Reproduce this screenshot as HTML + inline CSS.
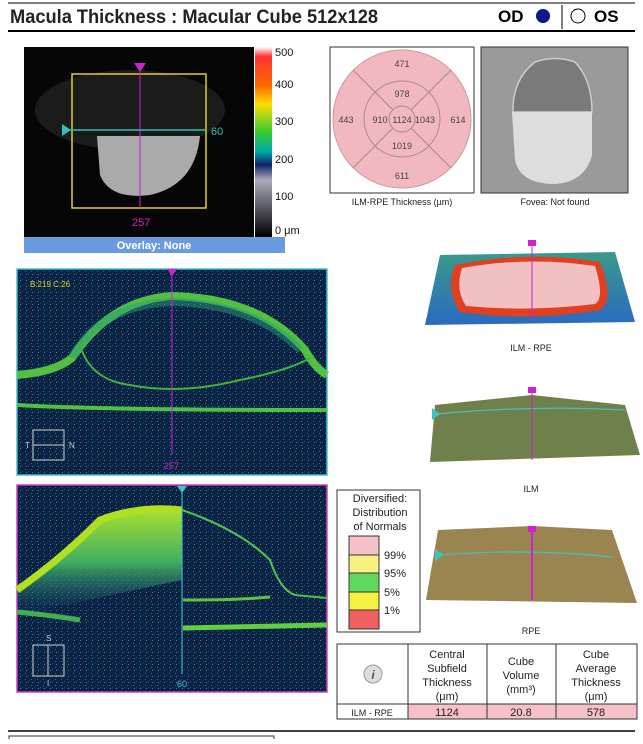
<!DOCTYPE html>
<html><head><meta charset="utf-8"><style>
body{margin:0;background:#fff;width:643px;height:739px;overflow:hidden;font-family:"Liberation Sans",sans-serif}
</style></head><body>
<svg width="643" height="739" xmlns="http://www.w3.org/2000/svg" font-family="Liberation Sans, sans-serif">
<defs>
<linearGradient id="cb" x1="0" y1="0" x2="0" y2="1">
<stop offset="0" stop-color="#fff"/><stop offset="0.05" stop-color="#f33"/><stop offset="0.2" stop-color="#f60"/><stop offset="0.3" stop-color="#fd0"/><stop offset="0.45" stop-color="#3c3"/><stop offset="0.55" stop-color="#0aa"/><stop offset="0.62" stop-color="#126"/><stop offset="0.7" stop-color="#aab"/><stop offset="1" stop-color="#000"/></linearGradient>
<pattern id="noise" width="6" height="6" patternUnits="userSpaceOnUse"><rect width="6" height="6" fill="#0b2342"/><rect x="1" y="1" width="1" height="1" fill="#2a6a9a"/><rect x="4" y="3" width="1" height="1" fill="#1c5080"/><rect x="2" y="4" width="1" height="1" fill="#3a8ab0"/></pattern>
<linearGradient id="map" x1="0" y1="0" x2="0" y2="1"><stop offset="0" stop-color="#3a9a8a"/><stop offset="1" stop-color="#2a6ac0"/></linearGradient>
<linearGradient id="dome" x1="0" y1="0" x2="0" y2="1"><stop offset="0" stop-color="#a8e030"/><stop offset="0.5" stop-color="#40b060"/><stop offset="1" stop-color="#1a5080" stop-opacity="0"/></linearGradient>
</defs>
<line x1="8" y1="3" x2="635" y2="3" stroke="#000" stroke-width="1"/>
<text x="10" y="23" font-size="19" font-weight="bold" fill="#222" textLength="368" lengthAdjust="spacingAndGlyphs">Macula Thickness : Macular Cube 512x128</text>
<text x="498" y="22" font-size="17" font-weight="bold">OD</text>
<circle cx="543" cy="16" r="7" fill="#0a1a8a"/>
<line x1="562" y1="5" x2="562" y2="29" stroke="#000"/>
<circle cx="578" cy="16" r="7" fill="#fff" stroke="#000"/>
<text x="594" y="22" font-size="17" font-weight="bold">OS</text>
<line x1="8" y1="31" x2="635" y2="31" stroke="#000" stroke-width="2"/>
<!-- fundus -->
<rect x="24" y="47" width="230" height="190" fill="#060606"/>
<ellipse cx="130" cy="110" rx="95" ry="40" fill="#2a2a2a" opacity="0.6"/>
<path d="M97 136 L200 136 Q195 185 150 195 Q110 200 100 175 Z" fill="#aaa"/>
<rect x="72" y="74" width="134" height="134" fill="none" stroke="#e0d020" stroke-width="1.5"/>
<line x1="140" y1="67" x2="140" y2="208" stroke="#d020d0"/>
<polygon points="134,63 146,63 140,72" fill="#d020d0"/>
<line x1="66" y1="130" x2="205" y2="130" stroke="#30c0c0" stroke-width="1.5"/>
<polygon points="62,124 62,136 71,130" fill="#30c0c0"/>
<text x="211" y="135" font-size="11" fill="#30c0c0">60</text>
<text x="132" y="226" font-size="11" fill="#d020d0">257</text>
<rect x="255" y="47" width="17" height="190" fill="url(#cb)"/>
<g font-size="11" fill="#111"><text x="275" y="56">500</text><text x="275" y="88">400</text><text x="275" y="125">300</text><text x="275" y="163">200</text><text x="275" y="200">100</text><text x="275" y="234">0 μm</text></g>
<rect x="24" y="237" width="261" height="16" fill="#6a9ae0"/>
<text x="154" y="249" font-size="11" font-weight="bold" fill="#fff" text-anchor="middle">Overlay: None</text>
<!-- ETDRS -->
<rect x="330" y="47" width="144" height="146" fill="#fff" stroke="#333"/>
<circle cx="402" cy="119" r="69" fill="#f2b8c0" stroke="#c99"/>
<circle cx="402" cy="119" r="38" fill="none" stroke="#a88"/>
<circle cx="402" cy="119" r="13" fill="none" stroke="#a88"/>
<g stroke="#a88"><line x1="375" y1="92" x2="353" y2="70"/><line x1="429" y1="92" x2="451" y2="70"/><line x1="375" y1="146" x2="353" y2="168"/><line x1="429" y1="146" x2="451" y2="168"/>
<line x1="393" y1="110" x2="375" y2="92"/><line x1="411" y1="110" x2="429" y2="92"/><line x1="393" y1="128" x2="375" y2="146"/><line x1="411" y1="128" x2="429" y2="146"/></g>
<g font-size="9" fill="#444" text-anchor="middle"><text x="402" y="67">471</text><text x="402" y="97">978</text><text x="346" y="123">443</text><text x="380" y="123">910</text><text x="402" y="123">1124</text><text x="425" y="123">1043</text><text x="458" y="123">614</text><text x="402" y="149">1019</text><text x="402" y="179">611</text></g>
<text x="402" y="205" font-size="9" fill="#222" text-anchor="middle">ILM-RPE Thickness (μm)</text>
<rect x="481" y="47" width="147" height="146" fill="#9a9a9a" stroke="#333"/>
<path d="M513 112 Q512 80 535 62 Q555 55 575 62 Q592 80 592 112 Z" fill="#7a7a7a" stroke="#ccc" stroke-width="1.5"/>
<path d="M512 112 L592 112 L592 155 Q585 182 555 184 Q520 184 515 160 Z" fill="#ddd"/>
<text x="555" y="205" font-size="9" fill="#222" text-anchor="middle">Fovea: Not found</text>
<!-- top OCT -->
<rect x="17" y="269" width="310" height="206" fill="url(#noise)" stroke="#40c0d0" stroke-width="1.5"/>
<path d="M17 375 Q55 372 72 358 Q110 300 172 296 Q260 298 305 350 Q315 368 327 375" fill="none" stroke="#5ad040" stroke-width="8" opacity="0.9"/>
<path d="M72 358 Q100 305 172 302 Q255 304 300 350" fill="none" stroke="#2a9a7a" stroke-width="8" opacity="0.5"/>
<path d="M80 345 Q90 380 130 385 Q180 395 240 380 Q290 370 310 358" fill="none" stroke="#40b040" stroke-width="2"/>
<path d="M17 405 Q100 410 327 410" stroke="#50c040" stroke-width="4" fill="none"/>
<text x="30" y="287" font-size="8" fill="#e0d020">B:219 C:26</text>
<line x1="172" y1="275" x2="172" y2="455" stroke="#d020d0"/>
<polygon points="167,269 177,269 172,276" fill="#d020d0"/>
<text x="164" y="469" font-size="9" fill="#d020d0">257</text>
<rect x="33" y="430" width="31" height="30" fill="none" stroke="#ccc"/><line x1="33" y1="445" x2="64" y2="445" stroke="#ccc"/>
<text x="25" y="448" font-size="8" fill="#ccc">T</text><text x="69" y="448" font-size="8" fill="#ccc">N</text>
<!-- bottom OCT -->
<rect x="17" y="485" width="310" height="207" fill="url(#noise)" stroke="#d040c0" stroke-width="1.5"/>
<path d="M17 590 Q60 560 100 520 Q140 505 182 510 L182 580 L17 615 Z" fill="url(#dome)"/>
<path d="M17 590 Q60 560 100 520 Q140 505 182 510" fill="none" stroke="#b0e020" stroke-width="7"/>
<path d="M182 510 Q240 530 270 560 Q280 590 295 595 L327 598" fill="none" stroke="#50c050" stroke-width="2"/>
<path d="M17 612 Q50 615 80 620" stroke="#40b050" stroke-width="5" fill="none"/>
<path d="M183 628 L327 625" stroke="#60d040" stroke-width="5"/>
<path d="M183 600 Q240 600 270 597" stroke="#60c040" stroke-width="3" fill="none"/>
<line x1="182" y1="492" x2="182" y2="674" stroke="#40c0d0"/>
<polygon points="177,486 187,486 182,493" fill="#40c0d0"/>
<text x="177" y="687" font-size="9" fill="#40c0d0">60</text>
<rect x="33" y="645" width="31" height="31" fill="none" stroke="#ccc"/><line x1="48" y1="645" x2="48" y2="676" stroke="#ccc"/>
<text x="46" y="641" font-size="8" fill="#ccc">S</text><text x="47" y="686" font-size="8" fill="#ccc">I</text>
<!-- 3D maps -->
<polygon points="440,255 615,252 635,322 425,325" fill="url(#map)"/>
<path d="M455 265 Q530 250 600 262 Q615 300 600 310 Q530 322 460 312 Q445 290 455 265Z" fill="#e04020"/>
<path d="M462 268 Q530 256 595 266 Q605 298 595 304 Q530 312 466 306 Q455 290 462 268Z" fill="#f2c0c0"/>
<line x1="532" y1="246" x2="532" y2="322" stroke="#d020d0"/><rect x="528" y="240" width="8" height="6" fill="#d020d0"/>
<text x="531" y="351" font-size="9" fill="#222" text-anchor="middle">ILM - RPE</text>
<polygon points="435,405 532,395 625,405 640,455 430,462" fill="#70804a"/>
<path d="M437 414 Q530 405 625 410" stroke="#40c0c0" fill="none" stroke-width="1.3"/>
<polygon points="432,408 432,420 440,414" fill="#40c0c0"/>
<line x1="532" y1="392" x2="532" y2="460" stroke="#d020d0"/><rect x="528" y="387" width="8" height="6" fill="#d020d0"/>
<text x="531" y="492" font-size="9" fill="#222" text-anchor="middle">ILM</text>
<polygon points="438,530 532,526 612,530 637,603 426,600" fill="#9a8450"/>
<path d="M440 555 Q530 548 612 557" stroke="#40c0c0" fill="none" stroke-width="1.3"/>
<polygon points="435,549 435,561 444,555" fill="#40c0c0"/>
<line x1="532" y1="530" x2="532" y2="600" stroke="#d020d0" stroke-width="2"/><rect x="528" y="526" width="8" height="6" fill="#d020d0"/>
<text x="531" y="634" font-size="9" fill="#222" text-anchor="middle">RPE</text>
<!-- legend -->
<rect x="337" y="490" width="83" height="142" fill="#fff" stroke="#333"/>
<g font-size="11" fill="#222" text-anchor="middle"><text x="380" y="502">Diversified:</text><text x="380" y="516">Distribution</text><text x="380" y="530">of Normals</text></g>
<rect x="349" y="536" width="30" height="19" fill="#f6c0c8" stroke="#333"/>
<rect x="349" y="555" width="30" height="18" fill="#f8f080" stroke="#333"/>
<rect x="349" y="573" width="30" height="19" fill="#60d860" stroke="#333"/>
<rect x="349" y="592" width="30" height="18" fill="#f8f040" stroke="#333"/>
<rect x="349" y="610" width="30" height="19" fill="#f06060" stroke="#333"/>
<g font-size="11" fill="#222"><text x="384" y="559">99%</text><text x="384" y="577">95%</text><text x="384" y="596">5%</text><text x="384" y="614">1%</text></g>
<!-- table -->
<g stroke="#333" fill="none"><rect x="337" y="644" width="300" height="75"/><line x1="337" y1="704" x2="637" y2="704"/>
<line x1="408" y1="644" x2="408" y2="719"/><line x1="487" y1="644" x2="487" y2="719"/><line x1="556" y1="644" x2="556" y2="719"/></g>
<rect x="408.5" y="704.5" width="228" height="14" fill="#f6c0c8"/>
<g stroke="#333"><line x1="487" y1="704" x2="487" y2="719"/><line x1="556" y1="704" x2="556" y2="719"/></g>
<circle cx="373" cy="674" r="9" fill="#ddd" stroke="#999"/><text x="373" y="679" font-size="12" font-style="italic" font-weight="bold" fill="#555" text-anchor="middle">i</text>
<g font-size="11" fill="#222" text-anchor="middle">
<text x="447" y="658">Central</text><text x="447" y="672">Subfield</text><text x="447" y="686">Thickness</text><text x="447" y="700">(μm)</text>
<text x="521" y="665">Cube</text><text x="521" y="679">Volume</text><text x="521" y="693">(mm³)</text>
<text x="596" y="658">Cube</text><text x="596" y="672">Average</text><text x="596" y="686">Thickness</text><text x="596" y="700">(μm)</text>
<text x="447" y="716">1124</text><text x="521" y="716">20.8</text><text x="596" y="716">578</text></g>
<text x="372" y="716" font-size="9" fill="#222" text-anchor="middle">ILM - RPE</text>
<line x1="8" y1="731" x2="635" y2="731" stroke="#000" stroke-width="1.5"/>
<rect x="9" y="736" width="265" height="6" fill="none" stroke="#333"/>
</svg>
</body></html>
